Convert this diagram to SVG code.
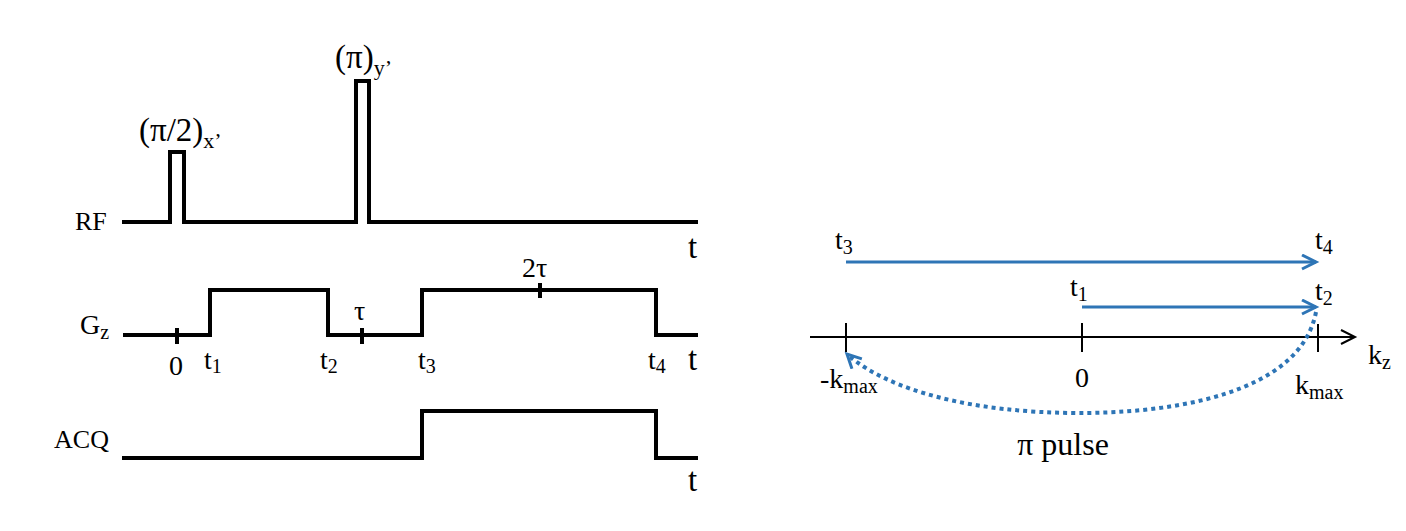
<svg xmlns="http://www.w3.org/2000/svg" width="1406" height="531" viewBox="0 0 1406 531">
<style>
.w{fill:none;stroke:#000;stroke-width:4;stroke-linejoin:miter;stroke-linecap:butt}
.ax{fill:none;stroke:#000;stroke-width:2}
.bl{fill:none;stroke:#2E75B6;stroke-width:3}
.dot{fill:none;stroke:#2E75B6;stroke-width:4;stroke-dasharray:4 4}
text{font-family:"Liberation Serif","Times New Roman",serif;fill:#000;font-size:26px}
.big{font-size:33px}
.sub{font-size:18px}
.l{font-size:28px}
.ls{font-size:20px}
.r{font-size:28px}
.rs{font-size:20px}
</style>
<defs>
<marker id="ab" markerUnits="userSpaceOnUse" markerWidth="20" markerHeight="20" refX="15" refY="8" orient="auto">
<path d="M1,1 L15,8 L1,15" fill="none" stroke="#2E75B6" stroke-width="3"/>
</marker>
<marker id="ak" markerUnits="userSpaceOnUse" markerWidth="20" markerHeight="20" refX="15" refY="8" orient="auto">
<path d="M1,1 L15,8 L1,15" fill="none" stroke="#000" stroke-width="2"/>
</marker>
</defs>
<g id="rf">
<text x="75" y="230">RF</text>
<path class="w" d="M122,222 H170 V152 H184 V222 H356 V81 H369 V222 H698"/>
<text x="139" y="141" class="big">(π/2)<tspan class="sub" style="font-size:22px" dy="7">x’</tspan></text>
<text x="335" y="68" class="big">(π)<tspan class="sub" style="font-size:22px" dy="7">y’</tspan></text>
<text x="688" y="258" class="big">t</text>
</g>
<g id="gz">
<text x="80" y="334" class="l">G<tspan class="ls" dy="5">z</tspan></text>
<path class="w" d="M123,335 H210 V290 H328 V335 H422 V290 H656 V335 H698"/>
<path class="w" d="M177,328 V344 M362,328 V344 M540,283 V298"/>
<text x="169" y="375" class="l">0</text>
<text x="204" y="369" class="l">t<tspan class="ls" dy="4">1</tspan></text>
<text x="320" y="369" class="l">t<tspan class="ls" dy="4">2</tspan></text>
<text x="418" y="369" class="l">t<tspan class="ls" dy="4">3</tspan></text>
<text x="648" y="369" class="l">t<tspan class="ls" dy="4">4</tspan></text>
<text x="354" y="320" class="l">τ</text>
<text x="522" y="277" class="l">2τ</text>
<text x="688" y="370" class="big">t</text>
</g>
<g id="acq">
<text x="109" y="448" text-anchor="end">ACQ</text>
<path class="w" d="M122,458 H422 V411 H656 V458 H698"/>
<text x="688" y="491" class="big">t</text>
</g>
<g id="kspace">
<path class="ax" d="M810,337 H1355" marker-end="url(#ak)"/>
<path class="ax" d="M846,323 V352 M1082,323 V352 M1318,324 V352"/>
<text x="820" y="388" class="r">-k<tspan class="rs" dy="5">max</tspan></text>
<text x="1075" y="387" class="r">0</text>
<text x="1295" y="394" class="r">k<tspan class="rs" dy="5">max</tspan></text>
<text x="1368" y="364" class="r">k<tspan class="rs" dy="5">z</tspan></text>
<text x="835" y="249" class="r">t<tspan class="rs" dy="5">3</tspan></text>
<text x="1315" y="249" class="r">t<tspan class="rs" dy="5">4</tspan></text>
<text x="1070" y="296" class="r">t<tspan class="rs" dy="5">1</tspan></text>
<text x="1315" y="300" class="r">t<tspan class="rs" dy="5">2</tspan></text>
<text x="1063" y="455" text-anchor="middle" style="font-size:32px">π pulse</text>
</g>
<g id="connectors">
<path class="bl" d="M846,262 H1316" marker-end="url(#ab)"/>
<path class="bl" d="M1082,307 H1316" marker-end="url(#ab)"/>
<path class="dot" d="M1316,312 C1300,395 1170,413 1080,413 C970,413 890,390 849,356"/>
<path class="bl" d="M849,356 L847,354" marker-end="url(#ab)"/>
</g>
</svg>
